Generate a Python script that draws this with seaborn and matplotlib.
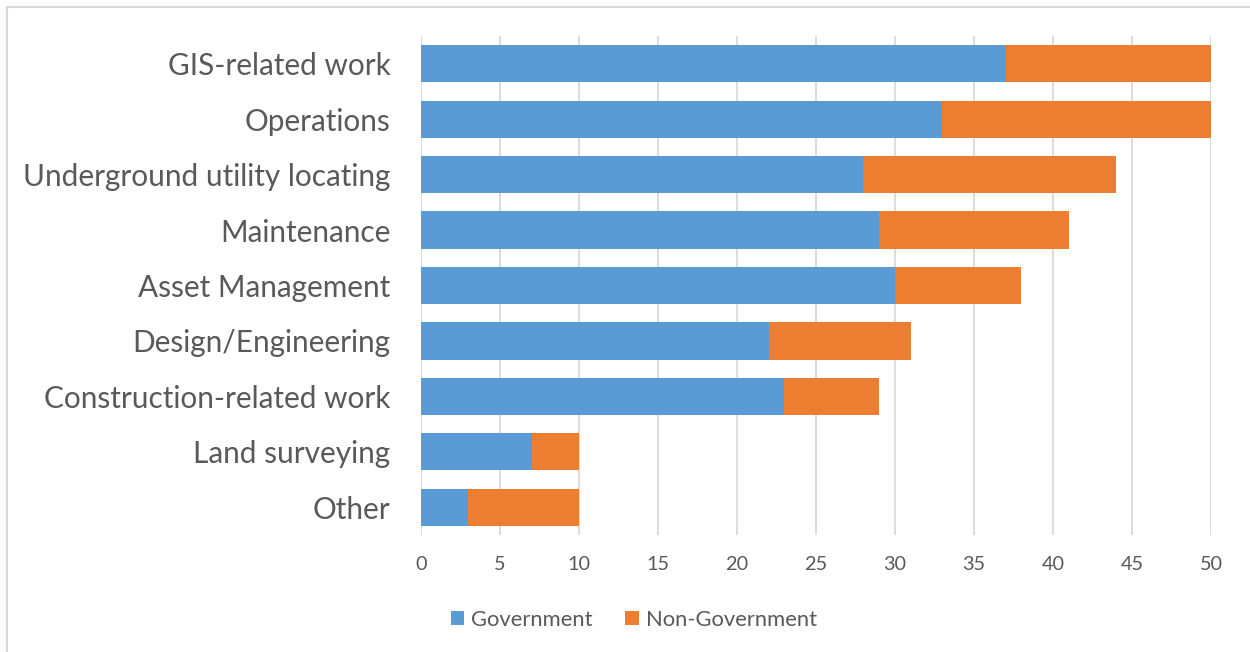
import matplotlib
matplotlib.use("Agg")
import matplotlib.pyplot as plt
from matplotlib.patches import Patch
from matplotlib.lines import Line2D
import seaborn as sns
import pandas as pd

categories = [
    "GIS-related work",
    "Operations",
    "Underground utility locating",
    "Maintenance",
    "Asset Management",
    "Design/Engineering",
    "Construction-related work",
    "Land surveying",
    "Other",
]
government = [37, 33, 28, 29, 30, 22, 23, 7, 3]
non_government = [13, 17, 16, 12, 8, 9, 6, 3, 7]
x_ticks = [0, 5, 10, 15, 20, 25, 30, 35, 40, 45, 50]

BLUE = "#5B9BD5"
ORANGE = "#ED7D31"
TEXT = "#595959"
GRID = "#D9D9D9"

df = pd.DataFrame({
    "category": categories,
    "Government": government,
    "Non-Government": non_government,
})
df["total"] = df["Government"] + df["Non-Government"]

sns.set_theme(style="white")
plt.rcParams["font.family"] = ["Lato", "DejaVu Sans"]

fig = plt.figure(figsize=(12.5, 6.52), dpi=100)
ax = fig.add_axes([0.3368, 0.1794, 0.632, 0.7654])

# Stacked bars: full total in orange, government share drawn over it in blue
sns.barplot(data=df, x="total", y="category", color=ORANGE, width=0.67,
            saturation=1, linewidth=0, ax=ax, zorder=3)
sns.barplot(data=df, x="Government", y="category", color=BLUE, width=0.67,
            saturation=1, linewidth=0, ax=ax, zorder=4)

ax.set_xlim(0, 50)
ax.set_ylim(len(categories) - 0.5, -0.5)
ax.set_xticks(x_ticks)
ax.set_xlabel("")
ax.set_ylabel("")
ax.xaxis.grid(True, color=GRID, linewidth=1.3, zorder=0)
ax.set_axisbelow(True)
for s in ax.spines.values():
    s.set_visible(False)
ax.tick_params(axis="x", length=0, pad=15, labelsize=14.3, labelcolor=TEXT)
ax.tick_params(axis="y", length=0, pad=22, labelsize=21.4, labelcolor=TEXT)

handles = [Patch(facecolor=BLUE, edgecolor="none", label="Government"),
           Patch(facecolor=ORANGE, edgecolor="none", label="Non-Government")]
fig.legend(handles=handles, loc="center", bbox_to_anchor=(0.507, 0.049),
           ncol=2, frameon=False, fontsize=15.8, labelcolor=TEXT,
           handlelength=0.6, handleheight=0.6, handletextpad=0.32,
           columnspacing=1.5, borderpad=0)

# Chart area border (left and top edges)
fig.add_artist(Line2D([0.0056, 0.0056], [0, 0.989], transform=fig.transFigure,
                      color=GRID, linewidth=1.5))
fig.add_artist(Line2D([0.0056, 1.0], [0.989, 0.989], transform=fig.transFigure,
                      color=GRID, linewidth=1.5))

fig.savefig("out.png", dpi=100)
